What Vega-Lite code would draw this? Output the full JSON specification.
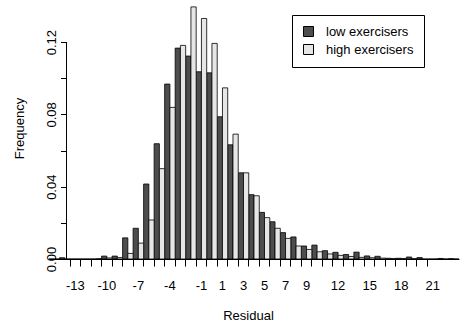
{
  "$schema": "https://vega.github.io/schema/vega-lite/v6.json",
  "autosize": {"type": "none"},
  "padding": {"left": 49, "top": 6, "right": 4, "bottom": 64},
  "width": 410,
  "height": 253,
  "config": {
    "font": "Liberation Sans",
    "view": {"stroke": null},
    "axis": {"labelColor": "black", "titleColor": "black", "tickColor": "black", "domainColor": "black", "labelFontSize": 13, "titleFontSize": 13, "titleFontWeight": "normal", "grid": false}
  },
  "layer": [
    {
      "data": {"values": [
        {"residual": -15, "group": "low exercisers", "freq": 0},
        {"residual": -14, "group": "low exercisers", "freq": 0.0007},
        {"residual": -13, "group": "low exercisers", "freq": 0},
        {"residual": -12, "group": "low exercisers", "freq": 0},
        {"residual": -11, "group": "low exercisers", "freq": 0},
        {"residual": -10, "group": "low exercisers", "freq": 0.0016},
        {"residual": -9, "group": "low exercisers", "freq": 0.0016},
        {"residual": -8, "group": "low exercisers", "freq": 0.0117},
        {"residual": -7, "group": "low exercisers", "freq": 0.017},
        {"residual": -6, "group": "low exercisers", "freq": 0.0415},
        {"residual": -5, "group": "low exercisers", "freq": 0.0638},
        {"residual": -4, "group": "low exercisers", "freq": 0.0968},
        {"residual": -3, "group": "low exercisers", "freq": 0.1167},
        {"residual": -2, "group": "low exercisers", "freq": 0.1123},
        {"residual": -1, "group": "low exercisers", "freq": 0.1036},
        {"residual": 0, "group": "low exercisers", "freq": 0.103},
        {"residual": 1, "group": "low exercisers", "freq": 0.0787},
        {"residual": 2, "group": "low exercisers", "freq": 0.0632},
        {"residual": 3, "group": "low exercisers", "freq": 0.0477},
        {"residual": 4, "group": "low exercisers", "freq": 0.0356},
        {"residual": 5, "group": "low exercisers", "freq": 0.0258},
        {"residual": 6, "group": "low exercisers", "freq": 0.0206},
        {"residual": 7, "group": "low exercisers", "freq": 0.0146},
        {"residual": 8, "group": "low exercisers", "freq": 0.0122},
        {"residual": 9, "group": "low exercisers", "freq": 0.0072},
        {"residual": 10, "group": "low exercisers", "freq": 0.0077},
        {"residual": 11, "group": "low exercisers", "freq": 0.0046},
        {"residual": 12, "group": "low exercisers", "freq": 0.0037},
        {"residual": 13, "group": "low exercisers", "freq": 0.0025},
        {"residual": 14, "group": "low exercisers", "freq": 0.0038},
        {"residual": 15, "group": "low exercisers", "freq": 0.0017},
        {"residual": 16, "group": "low exercisers", "freq": 0.0015},
        {"residual": 17, "group": "low exercisers", "freq": 0.0004},
        {"residual": 18, "group": "low exercisers", "freq": 0.0004},
        {"residual": 19, "group": "low exercisers", "freq": 0.0011},
        {"residual": 20, "group": "low exercisers", "freq": 0.0008},
        {"residual": 21, "group": "low exercisers", "freq": 0},
        {"residual": 22, "group": "low exercisers", "freq": 0.0003},
        {"residual": 23, "group": "low exercisers", "freq": 0.0002},
        {"residual": -15, "group": "high exercisers", "freq": 0},
        {"residual": -14, "group": "high exercisers", "freq": 0},
        {"residual": -13, "group": "high exercisers", "freq": 0},
        {"residual": -12, "group": "high exercisers", "freq": 0},
        {"residual": -11, "group": "high exercisers", "freq": 0.0002},
        {"residual": -10, "group": "high exercisers", "freq": 0.0006},
        {"residual": -9, "group": "high exercisers", "freq": 0.0008},
        {"residual": -8, "group": "high exercisers", "freq": 0.0031},
        {"residual": -7, "group": "high exercisers", "freq": 0.0088},
        {"residual": -6, "group": "high exercisers", "freq": 0.0216},
        {"residual": -5, "group": "high exercisers", "freq": 0.05},
        {"residual": -4, "group": "high exercisers", "freq": 0.0839},
        {"residual": -3, "group": "high exercisers", "freq": 0.1182},
        {"residual": -2, "group": "high exercisers", "freq": 0.1395},
        {"residual": -1, "group": "high exercisers", "freq": 0.1331},
        {"residual": 0, "group": "high exercisers", "freq": 0.1193},
        {"residual": 1, "group": "high exercisers", "freq": 0.0947},
        {"residual": 2, "group": "high exercisers", "freq": 0.0691},
        {"residual": 3, "group": "high exercisers", "freq": 0.0477},
        {"residual": 4, "group": "high exercisers", "freq": 0.035},
        {"residual": 5, "group": "high exercisers", "freq": 0.0229},
        {"residual": 6, "group": "high exercisers", "freq": 0.017},
        {"residual": 7, "group": "high exercisers", "freq": 0.0114},
        {"residual": 8, "group": "high exercisers", "freq": 0.0072},
        {"residual": 9, "group": "high exercisers", "freq": 0.0053},
        {"residual": 10, "group": "high exercisers", "freq": 0.004},
        {"residual": 11, "group": "high exercisers", "freq": 0.0028},
        {"residual": 12, "group": "high exercisers", "freq": 0.002},
        {"residual": 13, "group": "high exercisers", "freq": 0.0014},
        {"residual": 14, "group": "high exercisers", "freq": 0.0009},
        {"residual": 15, "group": "high exercisers", "freq": 0.0007},
        {"residual": 16, "group": "high exercisers", "freq": 0.0005},
        {"residual": 17, "group": "high exercisers", "freq": 0.0003},
        {"residual": 18, "group": "high exercisers", "freq": 0.0003},
        {"residual": 19, "group": "high exercisers", "freq": 0.0002},
        {"residual": 20, "group": "high exercisers", "freq": 0},
        {"residual": 21, "group": "high exercisers", "freq": 0},
        {"residual": 22, "group": "high exercisers", "freq": 0},
        {"residual": 23, "group": "high exercisers", "freq": 0}
      ]},
      "mark": {"type": "bar", "stroke": "black", "strokeWidth": 0.8},
      "encoding": {
        "x": {
          "field": "residual", "type": "ordinal",
          "scale": {"domain": [-15,-14,-13,-12,-11,-10,-9,-8,-7,-6,-5,-4,-3,-2,-1,0,1,2,3,4,5,6,7,8,9,10,11,12,13,14,15,16,17,18,19,20,21,22,23], "paddingInner": 0, "paddingOuter": 0},
          "axis": {
            "title": "Residual",
            "titleX": 199,
            "values": [-13,-12,-11,-10,-9,-8,-7,-6,-5,-4,-3,-2,-1,0,1,2,3,4,5,6,7,8,9,10,11,12,13,14,15,16,17,18,19,20,21],
            "labelExpr": "indexof([-13,-10,-7,-4,-1,1,3,5,7,9,12,15,18,21], datum.value) >= 0 ? datum.label : ''",
            "bandPosition": 0,
            "labelAngle": 0,
            "tickSize": 7,
            "labelPadding": 13,
            "titlePadding": 17,
            "labelOverlap": false
          }
        },
        "xOffset": {"field": "group", "type": "nominal", "sort": ["low exercisers", "high exercisers"], "scale": {"paddingInner": 0, "paddingOuter": 0}},
        "y": {
          "field": "freq", "type": "quantitative",
          "scale": {"domain": [0, 0.14], "nice": false},
          "axis": {
            "title": "Frequency",
            "titleY": 122,
            "values": [0, 0.02, 0.04, 0.06, 0.08, 0.1, 0.12],
            "format": ".2f",
            "labelExpr": "indexof([0, 0.04, 0.08, 0.12], datum.value) >= 0 ? datum.label : ''",
            "labelAngle": -90,
            "labelAlign": "center",
            "labelBaseline": "bottom",
            "labelPadding": 2.5,
            "tickSize": 6,
            "domain": false,
            "offset": -17.5,
            "titlePadding": 19,
            "labelOverlap": false
          }
        },
        "fill": {
          "field": "group", "type": "nominal",
          "sort": ["low exercisers", "high exercisers"],
          "scale": {"domain": ["low exercisers", "high exercisers"], "range": ["#4D4D4D", "#E6E6E6"]},
          "legend": {
            "title": null,
            "orient": "none",
            "legendX": 243,
            "legendY": 9,
            "strokeColor": "black",
            "fillColor": "white",
            "padding": 10,
            "symbolType": "square",
            "symbolSize": 100,
            "symbolStrokeColor": "black",
            "symbolStrokeWidth": 1,
            "labelFontSize": 13,
            "labelColor": "black",
            "labelOffset": 11,
            "rowPadding": 3
          }
        }
      }
    },
    {
      "data": {"values": [{"lo": 0, "hi": 0.12}]},
      "mark": {"type": "rule", "color": "black", "strokeWidth": 1},
      "encoding": {
        "x": {"datum": -14, "type": "ordinal", "bandPosition": 0.667},
        "y": {"field": "lo", "type": "quantitative"},
        "y2": {"field": "hi"}
      }
    }
  ]
}
